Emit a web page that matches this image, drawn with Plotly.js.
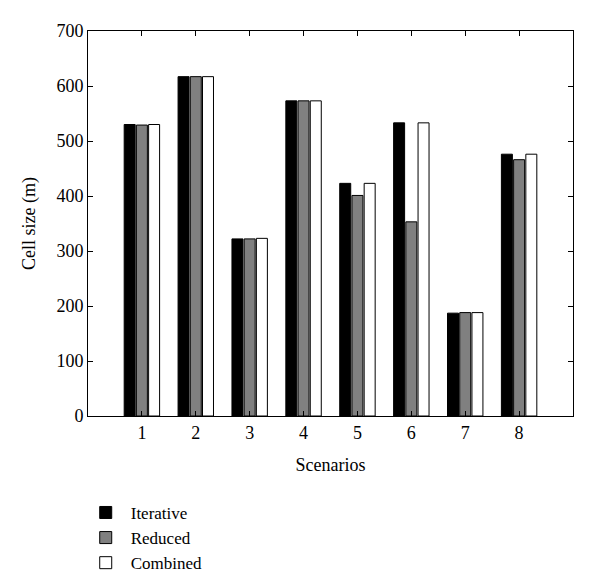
<!DOCTYPE html>
<html>
<head>
<meta charset="utf-8">
<script src="https://cdn.plot.ly/plotly-3.0.1.min.js"></script>
<style>html,body{margin:0;padding:0;background:#fff;}#chart{width:600px;height:588px;}</style>
</head>
<body>
<div id="chart"></div>
<script>
const scenarios = [1, 2, 3, 4, 5, 6, 7, 8];
const iterative = [530, 617, 322, 573, 423, 533, 187, 476];
const reduced   = [529, 617, 322, 573, 401, 353, 188, 466];
const combined  = [530, 617, 323, 573, 423, 533, 188, 476];
const seriesNames = ["Iterative", "Reduced", "Combined"];
const yTicks = [0, 100, 200, 300, 400, 500, 600, 700];

const font = "'Liberation Serif', 'DejaVu Serif', serif";
const line = {color: "#000", width: 1};
const traces = [
  {type: "bar", name: seriesNames[0], x: scenarios, y: iterative, marker: {color: "#000000", line: line}},
  {type: "bar", name: seriesNames[1], x: scenarios, y: reduced, marker: {color: "#808080", line: line}},
  {type: "bar", name: seriesNames[2], x: scenarios, y: combined, marker: {color: "#ffffff", line: line}}
];

const axisCommon = {
  showgrid: false, zeroline: false, showline: true, linecolor: "#000", linewidth: 1,
  mirror: "ticks", ticks: "inside", ticklen: 5, tickcolor: "#000",
  tickfont: {family: font, size: 18, color: "#000"}
};

const layout = {
  width: 600, height: 588,
  margin: {l: 88, r: 27, t: 31, b: 172, autoexpand: false},
  paper_bgcolor: "#fff", plot_bgcolor: "#fff",
  font: {family: font, color: "#000"},
  barmode: "group", bargap: 0.32, bargroupgap: 0.1,
  showlegend: true,
  legend: {
    x: -0.015, xanchor: "left", y: -0.205, yanchor: "top",
    font: {family: font, size: 17, color: "#000"},
    bgcolor: "rgba(0,0,0,0)", tracegroupgap: 0, itemwidth: 40,
    traceorder: "normal"
  },
  xaxis: Object.assign({}, axisCommon, {
    range: [0, 9], tickmode: "array", tickvals: scenarios, ticktext: scenarios.map(String),
    title: {text: "Scenarios", font: {family: font, size: 18, color: "#000"}, standoff: 16}
  }),
  yaxis: Object.assign({}, axisCommon, {
    range: [0, 700], tickmode: "array", tickvals: yTicks, ticktext: yTicks.map(String),
    title: {text: "Cell size (m)", font: {family: font, size: 18, color: "#000"}, standoff: 16}
  })
};

Plotly.newPlot("chart", traces, layout, {displayModeBar: false, staticPlot: true});
</script>
</body>
</html>
